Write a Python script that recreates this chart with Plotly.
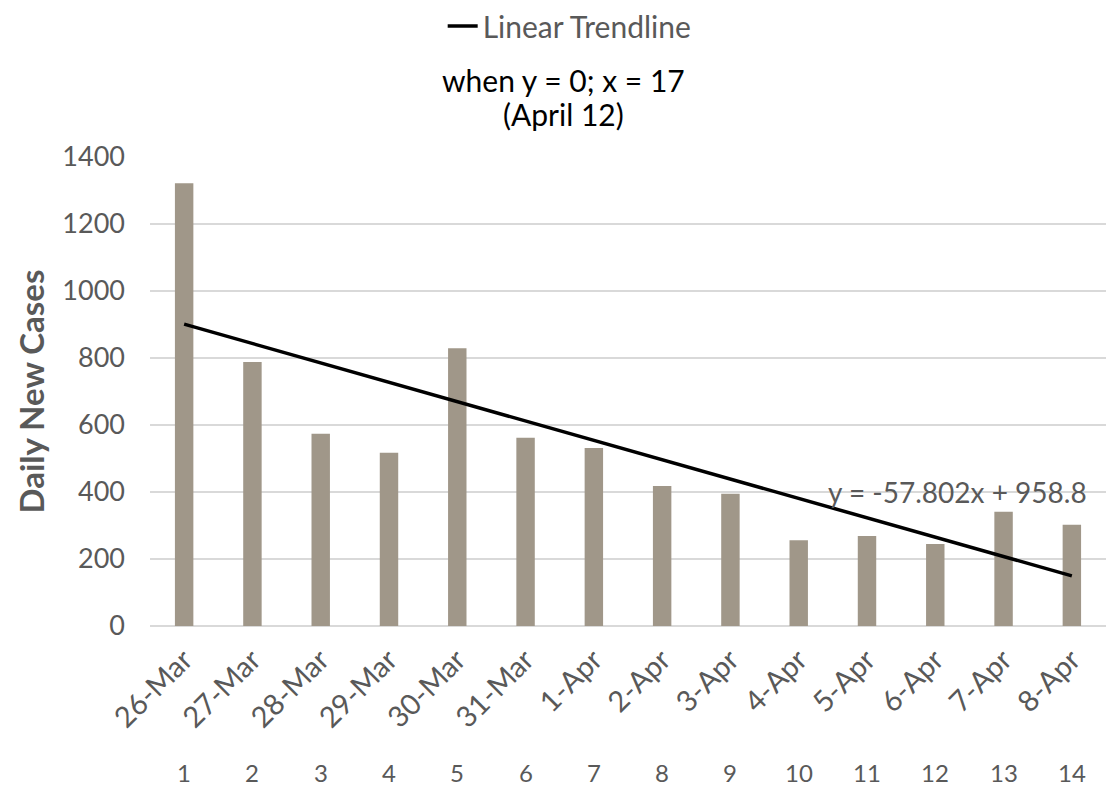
import plotly.graph_objects as go

dates = ["26-Mar", "27-Mar", "28-Mar", "29-Mar", "30-Mar", "31-Mar", "1-Apr",
         "2-Apr", "3-Apr", "4-Apr", "5-Apr", "6-Apr", "7-Apr", "8-Apr"]
days = list(range(1, 15))
new_cases = [1322, 788, 574, 517, 829, 562, 531, 418, 395, 256, 269, 245, 341, 302]
slope = -57.802
intercept = 958.8
note_lines = ["when y = 0; x = 17", "(April 12)"]

FONT = "Lato"
GREY = "#595959"

trend_x = [days[0], days[-1]]
trend_y = [slope * x + intercept for x in trend_x]

fig = go.Figure()
fig.add_trace(go.Bar(x=days, y=new_cases, marker=dict(color="#A09789", line=dict(width=0)),
                     width=0.27, showlegend=False, name="Daily New Cases"))
fig.add_trace(go.Scatter(x=trend_x, y=trend_y, mode="lines", name="Linear Trendline",
                         line=dict(color="black", width=3.5)))

fig.update_layout(
    width=1099, height=780,
    margin=dict(l=142, r=1, t=149, b=162, autoexpand=False),
    plot_bgcolor="white", paper_bgcolor="white",
    font=dict(family=FONT, color=GREY, size=27),
    showlegend=True,
    legend=dict(orientation="h", x=0.439, xanchor="center", y=1.335, yanchor="top",
                font=dict(size=30, color=GREY), bgcolor="rgba(0,0,0,0)"),
)
fig.update_xaxes(range=[0.5, 14.5], tickvals=days, ticktext=dates, tickangle=-45,
                 showgrid=False, zeroline=False, showline=False, ticks="",
                 ticklabelstandoff=10, automargin=False,
                 tickfont=dict(size=29, color=GREY, family=FONT))
fig.update_yaxes(range=[0, 1400], dtick=200, showgrid=True, gridcolor="#D9D9D9", gridwidth=1.5,
                 zeroline=True, zerolinecolor="#D9D9D9", zerolinewidth=1.5, showline=False, ticks="",
                 ticklabelstandoff=24, automargin=False,
                 tickfont=dict(size=27, color=GREY, family=FONT))

fig.add_annotation(x=0, y=0.5, xref="paper", yref="paper", text="<b>Daily New Cases</b>",
                   textangle=-90, showarrow=False, xanchor="center", yanchor="middle", xshift=-120,
                   font=dict(size=33, color=GREY, family=FONT))

for d in days:
    fig.add_annotation(x=d, y=0, xref="x", yref="paper", text=str(d), showarrow=False,
                       yshift=-146, yanchor="middle", borderpad=0,
                       font=dict(size=24, color=GREY, family=FONT))

for i, line in enumerate(note_lines):
    fig.add_annotation(x=0.433, y=1, xref="paper", yref="paper", text=line, showarrow=False,
                       yanchor="middle", yshift=149 - (72 + 34 * i), borderpad=0,
                       font=dict(size=30, color="black", family=FONT))

fig.add_annotation(x=12.32, y=400, xref="x", yref="y", text="y = -57.802x + 958.8",
                   showarrow=False, font=dict(size=28, color=GREY, family=FONT))

fig.write_html("out.html")
